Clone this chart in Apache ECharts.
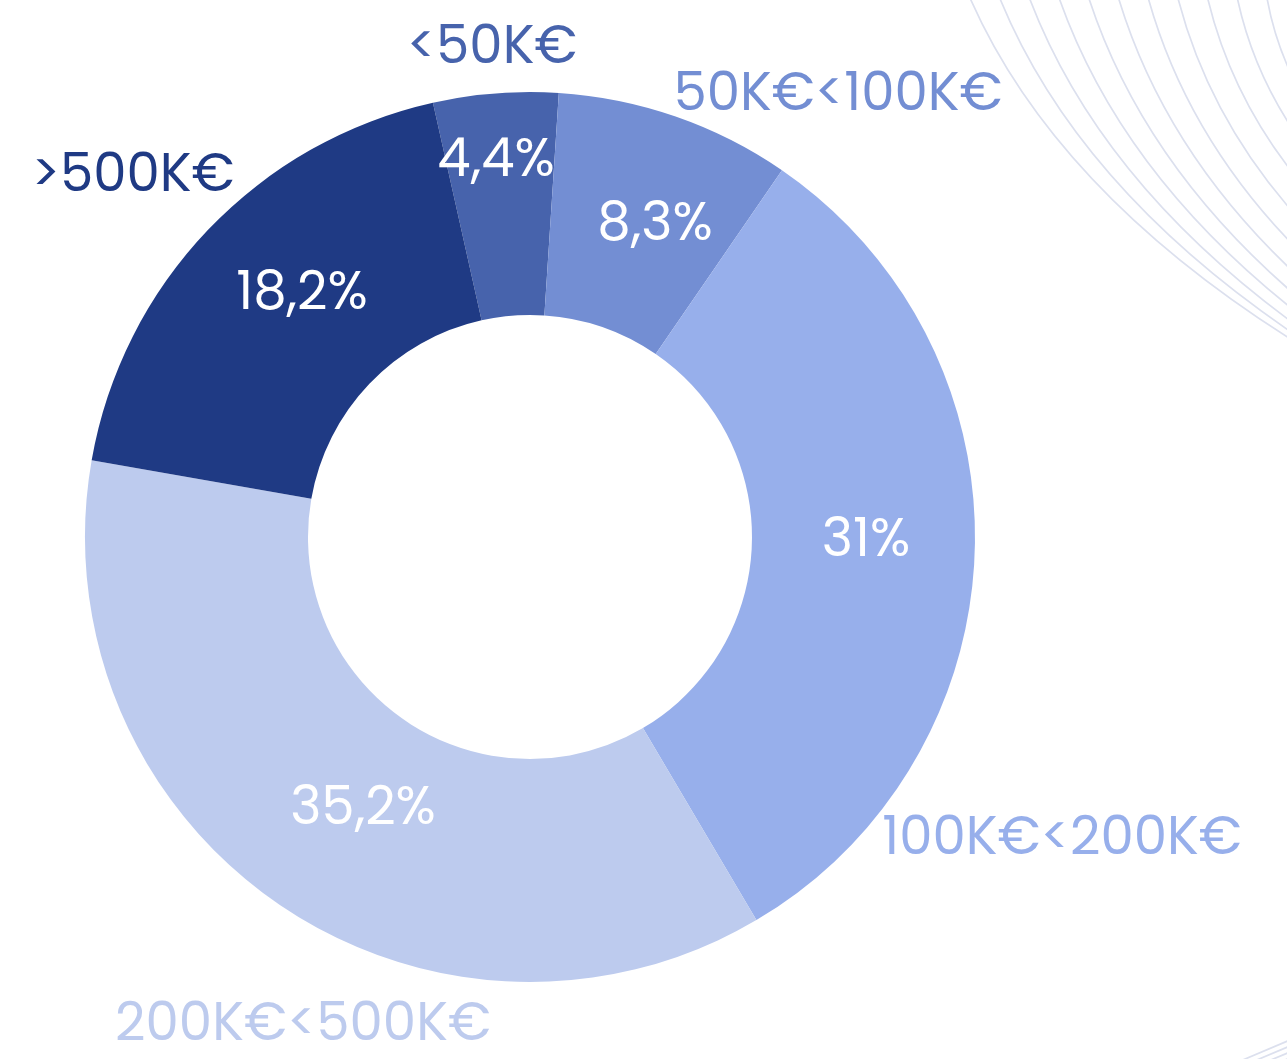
<!DOCTYPE html>
<html>
<head>
<meta charset="utf-8">
<title>Répartition</title>
<script src="https://cdn.jsdelivr.net/npm/echarts@6/dist/echarts.min.js"></script>
<style>
  html, body { margin: 0; padding: 0; background: #ffffff; }
  #chart { width: 1287px; height: 1059px; }
</style>
</head>
<body>
<div id="chart"></div>
<script>
// tranches, clockwise from the top
const categories = ['<50K€', '50K€<100K€', '100K€<200K€', '200K€<500K€', '>500K€'];
const shares = [4.4, 8.3, 31, 35.2, 18.2];
const colors = ['#4763AC', '#738ED3', '#97AFEB', '#BDCBEE', '#1F3A84'];

// where each label sits on the page (pixels)
const nameSpots = [[492, 50], [838, 97], [1062, 841], [303, 1027], [133, 178]];
const pctSpots = [[496, 163], [655, 227], [866, 543], [363, 811], [302, 296]];

const FONT = 'Poppins, Lato, sans-serif';

const chart = echarts.init(document.getElementById('chart'));

function fmtPct(v) {
    return String(v).replace('.', ',') + '%';
}

// thin decorative curves top right
const deco = [];
for (let i = 0; i < 11; i++) {
    const x0 = 970 + 29.7 * i;
    const yEnd = [333, 326, 316, 303, 287, 266, 240, 208, 170, 128, 80][i];
    deco.push({
        type: 'bezierCurve',
        silent: true,
        shape: {
            x1: x0, y1: -2,
            x2: 1300, y2: yEnd + 12,
            cpx1: x0 + 0.26 * (1300 - x0), cpy1: 0.58 * yEnd
        },
        style: { stroke: '#DCE0EE', lineWidth: 1.7, fill: null },
        z: -10
    });
}
// and a few at the bottom right corner
for (let j = 0; j < 4; j++) {
    deco.push({
        type: 'line',
        silent: true,
        shape: { x1: 1238 + j * 14, y1: 1062, x2: 1290, y2: 1040 + j * 6 },
        style: { stroke: '#DCE0EE', lineWidth: 1.7 },
        z: -10
    });
}

const baseData = categories.map(function(name, i) {
    return { name: name, value: shares[i], itemStyle: { color: colors[i] } };
});

chart.setOption({
    backgroundColor: '#ffffff',
    animation: false,
    graphic: deco,
    series: [
        {
            type: 'pie',
            center: [530, 537],
            radius: [222, 445],
            startAngle: 102.6,
            clockwise: true,
            silent: true,
            itemStyle: { borderWidth: 0 },
            label: {
                show: true,
                position: 'inside',
                color: '#ffffff',
                fontFamily: FONT,
                fontSize: 53,
                overflow: 'none',
                formatter: function(p) { return fmtPct(p.value); }
            },
            labelLine: { show: false },
            labelLayout: function(p) {
                const s = pctSpots[p.dataIndex];
                return { x: s[0], y: s[1], align: 'center', verticalAlign: 'middle' };
            },
            data: baseData
        },
        {
            type: 'pie',
            center: [530, 537],
            radius: [222, 445],
            startAngle: 102.6,
            clockwise: true,
            silent: true,
            itemStyle: { color: 'rgba(0,0,0,0)', borderWidth: 0 },
            label: {
                show: true,
                position: 'outside',
                alignTo: 'none',
                overflow: 'none',
                fontFamily: FONT,
                fontSize: 53,
                formatter: '{b}'
            },
            labelLine: { show: false },
            labelLayout: function(p) {
                const s = nameSpots[p.dataIndex];
                return { x: s[0], y: s[1], align: 'center', verticalAlign: 'middle' };
            },
            data: categories.map(function(name, i) {
                return {
                    name: name,
                    value: shares[i],
                    itemStyle: { color: 'rgba(0,0,0,0)' },
                    label: { color: colors[i] }
                };
            })
        }
    ]
});
</script>
</body>
</html>
